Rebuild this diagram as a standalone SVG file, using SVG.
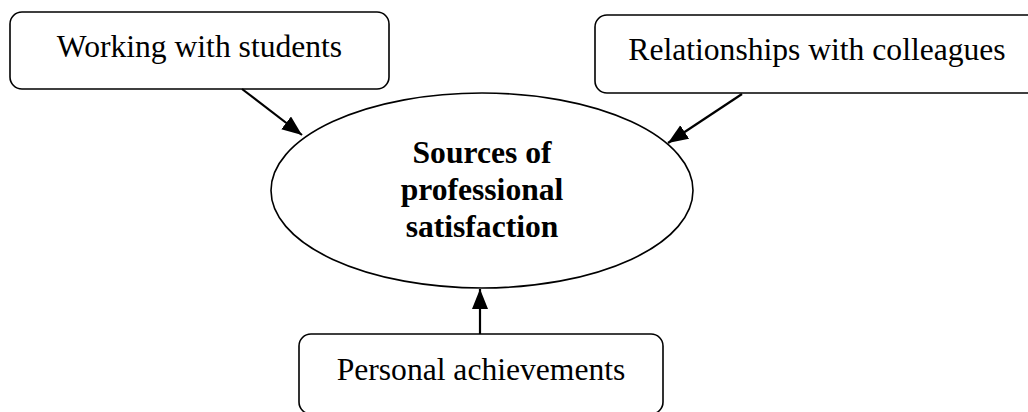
<svg xmlns="http://www.w3.org/2000/svg" width="1028" height="412" viewBox="0 0 1028 412">
<defs>
<style>
.box{fill:#fff;stroke:#000;stroke-width:1.6}
.lbl{font-family:"Liberation Serif","Times New Roman",serif;font-size:31.6px;fill:#000;text-anchor:middle}
.bold{font-weight:bold}
.conn{stroke:#000;stroke-width:2.2;fill:none;marker-end:url(#ah)}
</style>
<marker id="ah" markerUnits="userSpaceOnUse" markerWidth="22" markerHeight="18" refX="20" refY="8" orient="auto">
<path d="M0,0 L20,8 L0,16 Z" fill="#000"/>
</marker>
</defs>
<rect width="1028" height="412" fill="#fff"/>
<g id="center">
<ellipse class="box" cx="482" cy="190.5" rx="211" ry="97.5"/>
<text class="lbl bold" x="482" y="163">Sources of</text>
<text class="lbl bold" x="482" y="200">professional</text>
<text class="lbl bold" x="482" y="237">satisfaction</text>
</g>
<g id="students">
<rect class="box" x="10" y="12" width="379" height="77" rx="12"/>
<text class="lbl" x="199.5" y="57">Working with students</text>
</g>
<g id="colleagues">
<rect class="box" x="595" y="15" width="450" height="78" rx="12"/>
<text class="lbl" x="817" y="60">Relationships with colleagues</text>
</g>
<g id="achievements">
<rect class="box" x="299" y="334" width="364" height="80" rx="12"/>
<text class="lbl" x="481" y="380">Personal achievements</text>
</g>
<g id="connectors">
<line class="conn" x1="242" y1="89" x2="302" y2="135"/>
<line class="conn" x1="742" y1="94" x2="668" y2="143"/>
<line class="conn" x1="480" y1="334" x2="480" y2="289"/>
</g>
</svg>
